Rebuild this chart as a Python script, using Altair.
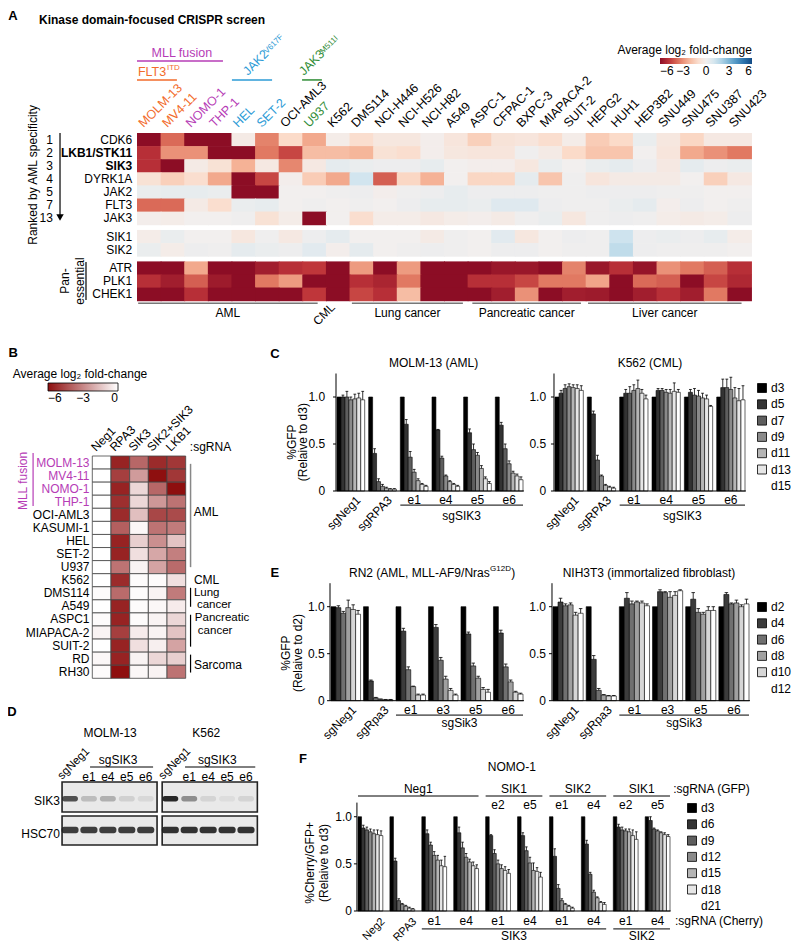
import altair as alt
import pandas as pd

OFF = 8
FONT = "Liberation Sans"
MAG, ORA, BLU, GRN = "#b63cb6", "#f26b2b", "#2c9bd6", "#2e8c35"

# ---------------- Panel A data ----------------
a_lines = ["MOLM-13", "MV4-11", "NOMO-1", "THP-1", "HEL", "SET-2", "OCI-AML3", "U937", "K562",
           "DMS114", "NCI-H446", "NCI-H526", "NCI-H82", "A549", "ASPC-1", "CFPAC-1", "BXPC-3",
           "MIAPACA-2", "SUIT-2", "HEPG2", "HUH1", "HEP3B2", "SNU449", "SNU475", "SNU387", "SNU423"]
a_line_colors = [ORA, ORA, MAG, MAG, BLU, BLU, "black", GRN] + ["black"] * 18
a_genes = ["CDK6", "LKB1/STK11", "SIK3", "DYRK1A", "JAK2", "FLT3", "JAK3", "SIK1", "SIK2", "ATR", "PLK1", "CHEK1"]
a_ranks = ["1", "2", "3", "4", "5", "7", "13"]
a_cdk6 = [-6, -3.8, -6, -6, -0.3, -3.3, -1.2, -2.5, -0.2, -1.0, -0.5, -0.5, -0.1, -0.6, -1.5, -0.7, -0.6, -1.0, -0.2, -1.6, -1.2, 0.3, -0.5, -1.3, -0.4, -0.4]
a_lkb1 = [-5, -3, -3, -6, -6, -3.5, -4.5, -2, -2, -2.2, -0.8, -1.0, -0.1, -0.5, -0.6, -0.6, 0.1, -0.3, -1.2, -1.8, -1.8, 0.0, -0.6, -2.5, -3.0, -3.5]
a_sik3 = [-5, -6, -0.3, -0.8, -2.3, -0.4, -3.2, -0.4, 0.5, 0.3, 0.2, 0.2, 0.4, 0.0, -0.1, -0.1, -0.5, 0.3, 0.0, 0.3, 0.5, 0.2, -0.4, 0.5, 0.2, 0.3]
a_dyrk1a = [-0.8, -1.5, -1.0, -2.5, -6, -4.5, -0.1, -1.6, -2.5, 1.2, -4.0, -1.3, -2.3, 0.0, -1.3, -1.3, 0.5, -1.8, 0.1, -0.6, -0.3, -0.3, -0.3, 0.0, -1.5, -0.4]
a_jak2 = [0.3, 0.4, 0.4, 0.3, -6, -6, 0.0, 0.0, 0.1, 0.2, -0.1, 0.1, 0.2, 0.4, 0.2, 0.2, 0.2, 0.1, 0.1, 0.2, 0.2, 0.2, 0.1, 0.1, 0.0, 0.0]
a_flt3 = [-3.8, -3.8, -0.3, -1.0, 0.3, 0.4, 0.0, 0.1, 0.0, 0.1, 0.0, 0.2, 0.4, 0.4, 0.3, 0.7, 0.7, 0.2, 0.1, 0.1, 0.3, 0.5, -0.1, 0.2, 0.0, 0.1]
a_jak3 = [-0.1, -0.2, 0.0, 0.0, 0.1, -0.8, -0.2, -6, 0.0, -1.0, -0.2, -0.2, -0.4, -0.2, -0.1, -0.3, 0.1, 0.3, -0.5, 0.1, 0.2, 0.1, -0.2, -0.3, -0.2, 0.2]
a_sik1 = [-0.2, 0.3, 0.0, 0.0, -0.5, 0.1, -0.4, 0.2, 0.5, 0.0, 0.0, 0.0, -0.3, 0.1, 0.0, 0.6, -0.5, 0.0, 0.2, 0.1, 1.3, 0.2, 0.3, 0.2, 0.4, -0.2]
a_sik2 = [0.3, -0.2, 0.2, 0.1, 0.5, 0.3, 0.2, 0.6, -0.1, 0.5, 0.0, 0.1, 0.2, 0.1, 0.0, 0.2, 0.2, 0.0, 0.1, 0.1, 1.6, 0.2, 0.1, 0.1, 0.1, 0.0]
a_atr = [-6, -6, -2.5, -6, -6, -5.5, -5, -4.8, -6, -2.8, -6, -2.8, -6, -6, -6, -5.7, -5.7, -6, -3.3, -5.7, -5.0, -5.8, -3.0, -3.5, -4.0, -5.0]
a_plk1 = [-5, -5.5, -4, -5.6, -6, -3.5, -2.8, -6, -6, -5, -5.3, -3.5, -6, -6, -5, -5, -4.5, -3.5, -3.5, -2.6, -6, -3.8, -4, -6, -4.5, -5.2]
a_chek1 = [-6, -6, -5, -6, -6, -6, -6, -4.8, -6, -4.5, -5, -2.0, -6, -6, -6, -5.5, -3.0, -6, -5.5, -5.6, -6, -5.5, -5, -5.5, -3.5, -6]
a_values = [a_cdk6, a_lkb1, a_sik3, a_dyrk1a, a_jak2, a_flt3, a_jak3, a_sik1, a_sik2, a_atr, a_plk1, a_chek1]
a_group_names = ["AML", "Lung cancer", "Pancreatic cancer", "Liver cancer"]

# ---------------- Panel B data ----------------
b_lines = ["MOLM-13", "MV4-11", "NOMO-1", "THP-1", "OCI-AML3", "KASUMI-1", "HEL", "SET-2", "U937",
           "K562", "DMS114", "A549", "ASPC1", "MIAPACA-2", "SUIT-2", "RD", "RH30"]
b_sgrnas = ["Neg1", "RPA3", "SIK3", "SIK2+SIK3", "LKB1"]
b_neg1 = [0, 0, 0, 0, 0, 0, 0, 0, 0, 0, -0.1, 0, -0.1, -0.3, 0, -0.2, -0.1]
b_rpa3 = [-5.5, -4.8, -5.5, -5.2, -5.3, -4.0, -5.5, -5.5, -3.5, -5.3, -3.7, -5.5, -5.5, -4.8, -5.5, -5.5, -6.0]
b_sik3 = [-3.8, -2.5, -1.0, -1.0, -1.6, -0.2, -1.2, -0.8, -0.3, -0.1, -0.1, -0.1, -0.1, -0.5, -0.8, -0.3, -0.2]
b_sik23 = [-5.3, -6.0, -3.8, -2.6, -4.6, -3.5, -2.8, -2.2, -2.3, -0.1, -0.3, -0.2, -0.3, -0.3, -0.4, -1.0, -0.3]
b_lkb1 = [-5.0, -5.0, -6.0, -3.5, -4.5, -3.3, -1.5, -3.2, -3.7, -0.8, -3.3, -0.5, -1.0, -1.5, -2.3, -1.2, -3.5]
b_values = [b_neg1, b_rpa3, b_sik3, b_sik23, b_lkb1]

# ---------------- Panel C data ----------------
c_days = ["d3", "d5", "d7", "d9", "d11", "d13", "d15"]
c_groups = ["sgNeg1", "sgRPA3", "e1", "e4", "e5", "e6"]
c1_vals = [[1.00, 1.00, 1.00, 0.97, 0.98, 0.99, 0.97],
           [1.00, 0.40, 0.10, 0.05, 0.03, 0.02, 0.02],
           [1.00, 0.71, 0.36, 0.20, 0.11, 0.07, 0.05],
           [1.00, 0.65, 0.35, 0.16, 0.10, 0.07, 0.05],
           [1.00, 0.62, 0.44, 0.38, 0.24, 0.13, 0.08],
           [1.00, 0.70, 0.45, 0.29, 0.19, 0.16, 0.12]]
c1_errs = [[0, 0.02, 0.06, 0.03, 0.05, 0.05, 0.09],
           [0, 0.05, 0.03, 0.02, 0.01, 0.005, 0.005],
           [0, 0.05, 0.06, 0.03, 0.02, 0.01, 0.01],
           [0, 0.005, 0.02, 0.01, 0.01, 0.01, 0.01],
           [0, 0.04, 0.06, 0.03, 0.03, 0.02, 0.02],
           [0, 0.03, 0.05, 0.03, 0.02, 0.02, 0.03]]
c2_vals = [[1.00, 1.04, 1.09, 1.11, 1.10, 1.09, 1.07],
           [1.00, 0.82, 0.33, 0.16, 0.06, 0.04, 0.03],
           [1.00, 1.04, 1.04, 1.07, 1.09, 1.04, 0.98],
           [1.00, 1.07, 1.07, 1.05, 1.04, 1.06, 1.05],
           [1.00, 1.05, 1.02, 1.01, 0.99, 0.98, 0.90],
           [1.00, 1.10, 1.10, 1.08, 0.99, 0.96, 0.97]]
c2_errs = [[0, 0.03, 0.04, 0.03, 0.03, 0.04, 0.05],
           [0, 0.03, 0.05, 0.01, 0.01, 0.01, 0.01],
           [0, 0.04, 0.07, 0.06, 0.09, 0.04, 0.04],
           [0, 0.02, 0.02, 0.03, 0.04, 0.09, 0.03],
           [0, 0.03, 0.07, 0.06, 0.05, 0.04, 0.01],
           [0, 0.09, 0.09, 0.13, 0.11, 0.13, 0.15]]
c_grays = ["#000000", "#333333", "#5e5e5e", "#8a8a8a", "#b5b5b5", "#e6e6e6", "#ffffff"]

# ---------------- Panel E data ----------------
e_days = ["d2", "d4", "d6", "d8", "d10", "d12"]
e_groups = ["sgNeg1", "sgRpa3", "e1", "e3", "e5", "e6"]
e1_vals = [[1.00, 0.99, 0.93, 0.99, 0.97, 0.92],
           [1.00, 0.21, 0.03, 0.015, 0.01, 0.01],
           [1.00, 0.74, 0.33, 0.15, 0.06, 0.06],
           [1.00, 0.78, 0.43, 0.23, 0.11, 0.06],
           [1.00, 0.71, 0.37, 0.24, 0.12, 0.09],
           [1.00, 0.72, 0.36, 0.20, 0.09, 0.07]]
e1_errs = [[0, 0.02, 0.02, 0.08, 0.05, 0.04],
           [0, 0.01, 0.005, 0.003, 0.003, 0.003],
           [0, 0.03, 0.03, 0.005, 0.01, 0.01],
           [0, 0.03, 0.03, 0.03, 0.02, 0.01],
           [0, 0.02, 0.03, 0.02, 0.02, 0.03],
           [0, 0.03, 0.03, 0.02, 0.01, 0.01]]
e2_vals = [[1.00, 1.05, 1.01, 1.02, 0.91, 0.93],
           [1.00, 0.44, 0.11, 0.06, 0.05, 0.05],
           [1.00, 1.09, 1.03, 1.05, 1.04, 1.01],
           [1.00, 1.16, 1.15, 1.10, 1.12, 1.17],
           [1.00, 1.08, 0.94, 0.92, 0.96, 0.96],
           [1.00, 1.13, 1.03, 1.04, 1.00, 1.03]]
e2_errs = [[0, 0.04, 0.02, 0.02, 0.03, 0.05],
           [0, 0.04, 0.02, 0.005, 0.005, 0.005],
           [0, 0.06, 0.03, 0.01, 0.02, 0.02],
           [0, 0.02, 0.01, 0.06, 0.04, 0.01],
           [0, 0.07, 0.04, 0.02, 0.04, 0.04],
           [0, 0.02, 0.01, 0.03, 0.02, 0.05]]
e_grays = ["#000000", "#3c3c3c", "#707070", "#a0a0a0", "#d6d6d6", "#ffffff"]

# ---------------- Panel F data ----------------
f_days = ["d3", "d6", "d9", "d12", "d15", "d18", "d21"]
f_cherry = ["Neg2", "RPA3", "e1", "e4", "e1", "e4", "e1", "e4", "e1", "e4"]
f_gfp_guides = ["e2", "e5", "e1", "e4", "e2", "e5"]
f_gfp_genes = ["Neg1", "SIK1", "SIK2", "SIK1"]
f_cherry_genes = ["SIK3", "SIK2"]
f_vals = [[1.00, 0.88, 0.86, 0.84, 0.82, 0.81, 0.80],
          [1.00, 0.53, 0.11, 0.07, 0.05, 0.03, 0.02],
          [1.00, 0.82, 0.70, 0.59, 0.54, 0.48, 0.47],
          [1.00, 0.83, 0.67, 0.57, 0.52, 0.48, 0.45],
          [1.00, 0.80, 0.61, 0.50, 0.45, 0.43, 0.40],
          [1.00, 0.80, 0.64, 0.51, 0.43, 0.42, 0.36],
          [1.00, 0.58, 0.24, 0.11, 0.07, 0.05, 0.03],
          [1.00, 0.71, 0.39, 0.20, 0.14, 0.09, 0.07],
          [1.00, 0.89, 0.86, 0.85, 0.84, 0.80, 0.76],
          [1.00, 0.96, 0.87, 0.85, 0.83, 0.81, 0.79]]
f_errs = [[0, 0.03, 0.03, 0.03, 0.04, 0.05, 0.05],
          [0, 0.03, 0.02, 0.01, 0.01, 0.01, 0.005],
          [0, 0.04, 0.03, 0.04, 0.05, 0.06, 0.11],
          [0, 0.06, 0.06, 0.04, 0.03, 0.04, 0.04],
          [0, 0.01, 0.04, 0.04, 0.04, 0.04, 0.04],
          [0, 0.03, 0.04, 0.06, 0.08, 0.04, 0.05],
          [0, 0.08, 0.04, 0.02, 0.01, 0.01, 0.01],
          [0, 0.04, 0.02, 0.02, 0.01, 0.01, 0.02],
          [0, 0.03, 0.03, 0.02, 0.03, 0.06, 0.08],
          [0, 0.04, 0.01, 0.01, 0.01, 0.02, 0.02]]

# ---------------- Panel D data (band intensities) ----------------
d_lanes = ["sgNeg1", "e1", "e4", "e5", "e6"]
d_sik3_molm13 = [0.75, 0.22, 0.28, 0.12, 0.08]
d_sik3_k562 = [0.95, 0.45, 0.10, 0.06, 0.10]
d_hsc70_molm13 = [0.85, 0.85, 0.85, 0.85, 0.85]
d_hsc70_k562 = [0.9, 0.9, 0.9, 0.9, 0.9]


# ---------------- helpers ----------------
class P:
    def __init__(self, xd, xr, yd, yr):
        self.xd, self.xr, self.yd, self.yr = xd, xr, yd, yr

    def xs(self):
        return alt.Scale(domain=list(self.xd), range=[self.xr[0] - OFF, self.xr[1] - OFF], nice=False, zero=False)

    def ys(self):
        return alt.Scale(domain=list(self.yd), range=[self.yr[0] - OFF, self.yr[1] - OFF], nice=False, zero=False)


def XY(p, xf="x", yf="y"):
    return dict(x=alt.X(f"{xf}:Q", scale=p.xs(), axis=None), y=alt.Y(f"{yf}:Q", scale=p.ys(), axis=None))


def text(p, items, align="center", baseline="middle", size=12, weight="normal", angle=0, color="black"):
    rows = []
    for it in items:
        rows.append({"x": it[0], "y": it[1], "t": it[2], "c": it[3] if len(it) > 3 else color})
    props = dict(align=align, baseline=baseline, fontSize=size, fontWeight=weight, font=FONT)
    if angle:
        props["angle"] = angle
    return alt.Chart(pd.DataFrame(rows)).mark_text(**props).encode(
        **XY(p), text="t:N", color=alt.Color("c:N", scale=None))


def rules(p, segs, color="black", width=1.0):
    df = pd.DataFrame(segs, columns=["x", "x2", "y", "y2"])
    return alt.Chart(df).mark_rule(color=color, strokeWidth=width).encode(**XY(p), x2="x2:Q", y2="y2:Q")


def bars(p, vals, errs, days, grays, stride, legend):
    rows = []
    for g, (vs, es) in enumerate(zip(vals, errs)):
        for d, (v, e) in enumerate(zip(vs, es)):
            x0 = g * stride + d
            rows.append(dict(x=x0, x2=x0 + 1, v=v, z=0.0, day=days[d], xc=x0 + 0.5,
                             xl=x0 + 0.15, xr=x0 + 0.85, top=v + e, e=e))
    df = pd.DataFrame(rows)
    fill = alt.Fill("day:N", scale=alt.Scale(domain=days, range=grays), legend=legend)
    b = alt.Chart(df).mark_rect(stroke="black", strokeWidth=0.6).encode(
        x=alt.X("x:Q", scale=p.xs(), axis=None), x2="x2:Q",
        y=alt.Y("v:Q", scale=p.ys(), axis=None), y2="z:Q", fill=fill)
    de = df[df.e > 0]
    ev = alt.Chart(de).mark_rule(color="black", strokeWidth=0.8).encode(
        x=alt.X("xc:Q", scale=p.xs(), axis=None),
        y=alt.Y("v:Q", scale=p.ys(), axis=None), y2="top:Q")
    ec = alt.Chart(de).mark_rule(color="black", strokeWidth=0.8).encode(
        x=alt.X("xl:Q", scale=p.xs(), axis=None), x2="xr:Q",
        y=alt.Y("top:Q", scale=p.ys(), axis=None))
    return [b, ev, ec]


def axes(p, x0, x1, ymax, label_x, tick_len):
    ticks = [(0, "0"), (0.5, "0.5"), (1.0, "1.0")]
    return [
        rules(p, [[x0, x0, 0, ymax], [x0, x1, 0, 0]], width=1.0),
        rules(p, [[x0 - tick_len, x0, t, t] for t, _ in ticks], width=1.0),
        text(p, [(label_x, t, s) for t, s in ticks], align="right"),
    ]


def day_legend(lx, ly, last_day):
    # the last (white) day is listed without a visible swatch, as in the reference
    stroke_expr = f"datum.value === '{last_day}' ? 'white' : 'black'"
    return alt.Legend(orient="none", legendX=lx, legendY=ly, title=None, symbolType="square",
                      symbolSize=81, symbolStrokeColor=alt.ExprRef(expr=stroke_expr), symbolStrokeWidth=0.8,
                      labelFontSize=12, labelFont=FONT, rowPadding=2.3, labelOffset=3, padding=0)


layers = []

# ================= Panel A =================
PA = P((0, 26), (137, 751), (0, 12.8), (133, 300.7))
a_row_top = [0, 1, 2, 3, 4, 5, 6, 7.4, 8.4, 9.8, 10.8, 11.8]
rowsA = []
for gi, vals in enumerate(a_values):
    for j, v in enumerate(vals):
        rowsA.append(dict(x=j, x2=j + 1.04, y=a_row_top[gi], y2=a_row_top[gi] + 1.04, v=v))
layers.append(alt.Chart(pd.DataFrame(rowsA)).mark_rect().encode(
    **XY(PA), x2="x2:Q", y2="y2:Q",
    fill=alt.Fill("v:Q", scale=alt.Scale(scheme="redblue", domain=[-6, 6], clamp=True),
                  legend=alt.Legend(orient="none", legendX=652, legendY=50, direction="horizontal",
                                    gradientLength=92, gradientThickness=6, title=None,
                                    values=[-6, -3, 0, 3, 6], labelFontSize=12, labelFont=FONT,
                                    labelOffset=2, labelOverlap=False, padding=0,
                                    gradientStrokeWidth=0))))
layers.append(text(PA, [(26.04, -6.34, "Average log\u2082 fold-change")], align="right"))
layers.append(text(PA, [(j + 0.28, -0.38, n, c) for j, (n, c) in enumerate(zip(a_lines, a_line_colors))],
                   align="left", baseline="alphabetic", angle=315, size=12.5))
layers.append(text(PA, [(-0.2, a_row_top[i] + 0.5, g) for i, g in enumerate(a_genes) if g not in ("LKB1/STK11", "SIK3")],
                   align="right"))
layers.append(text(PA, [(-0.2, a_row_top[i] + 0.5, g) for i, g in enumerate(a_genes) if g in ("LKB1/STK11", "SIK3")],
                   align="right", weight="bold"))
layers.append(text(PA, [(-3.56, a_row_top[i] + 0.5, r) for i, r in enumerate(a_ranks)], align="right"))
layers.append(rules(PA, [[-3.26, -3.26, 0.0, 6.3]], width=1.2))
layers.append(alt.Chart(pd.DataFrame([{"x": -3.26, "y": 6.45}])).mark_point(
    shape="triangle-down", filled=True, size=55, color="black", opacity=1).encode(**XY(PA)))
layers.append(text(PA, [(-4.41, 3.2, "Ranked by AML specificity")], angle=270))
layers.append(text(PA, [(-3.06, 11.3, "Pan-"), (-2.42, 11.3, "essential")], angle=270))
layers.append(rules(PA, [[-2.16, -2.16, 9.85, 12.75]], width=1.2))
a_group_span = [(0.05, 7.65), (9.1, 13.8), (14.2, 18.8), (19.1, 25.6)]
layers.append(rules(PA, [[a, b, 13.0, 13.0] for a, b in a_group_span], color="#777777", width=1.6))
layers.append(text(PA, [((a + b) / 2, 13.72, n) for (a, b), n in zip(a_group_span, a_group_names)]))
layers.append(text(PA, [(7.66, 14.73, "CML")], align="left", baseline="alphabetic", angle=315))
layers.append(text(PA, [(-5.25, -8.95, "A")], weight="bold", size=13))
layers.append(text(PA, [(-4.15, -8.63, "Kinase domain-focused CRISPR screen")], align="left", weight="bold", size=12))
layers.append(text(PA, [(1.9, -6.1, "MLL fusion", MAG)], size=12.5))
layers.append(rules(PA, [[0, 3.64, -5.5, -5.5]], color=MAG, width=1.5))
layers.append(text(PA, [(0.04, -4.66, "FLT3", ORA)], align="left", size=12.5))
layers.append(text(PA, [(1.27, -4.98, "ITD", ORA)], align="left", size=8))
layers.append(rules(PA, [[0, 1.69, -4.05, -4.05]], color=ORA, width=1.5))
layers.append(rules(PA, [[4.02, 5.72, -4.05, -4.05]], color=BLU, width=1.5))
layers.append(rules(PA, [[6.99, 7.83, -4.05, -4.05]], color=GRN, width=1.5))
layers.append(text(PA, [(4.7, -4.35, "JAK2", BLU), (7.07, -4.35, "JAK3", GRN)],
                   align="left", baseline="alphabetic", angle=315, size=12.5))
layers.append(text(PA, [(5.5, -6.03, "V617F", BLU), (7.88, -6.03, "M511I", GRN)],
                   align="left", baseline="alphabetic", angle=315, size=8))

# ================= Panel B =================
PB = P((0, 5), (92.3, 185.7), (0, 17), (456, 678.3))
rowsB = []
for j, vals in enumerate(b_values):
    for i, v in enumerate(vals):
        rowsB.append(dict(x=j, x2=j + 1, y=i, y2=i + 1, v=v))
layers.append(alt.Chart(pd.DataFrame(rowsB)).mark_rect(stroke="#444444", strokeWidth=0.8).encode(
    **XY(PB), x2="x2:Q", y2="y2:Q",
    fill=alt.Fill("v:Q", scale=alt.Scale(domain=[-6, 0], range=["#8e0f0f", "#ffffff"], interpolate="rgb", clamp=True),
                  legend=alt.Legend(orient="none", legendX=40, legendY=375, direction="horizontal",
                                    gradientLength=70, gradientThickness=8, title=None,
                                    values=[-6, -3, 0], labelFontSize=12, labelFont=FONT,
                                    labelOffset=2, labelOverlap=False, padding=0,
                                    gradientStrokeColor="black", gradientStrokeWidth=0.8))))
layers.append(text(PB, [(-0.66, -6.26, "Average log\u2082 fold-change")]))
layers.append(text(PB, [(-0.15, i + 0.5, n, MAG if i < 4 else "black") for i, n in enumerate(b_lines)], align="right"))
layers.append(text(PB, [(j + 0.2, -0.3, s) for j, s in enumerate(b_sgrnas)], align="left", baseline="alphabetic", angle=315))
layers.append(text(PB, [(5.22, -0.69, ":sgRNA")], align="left"))
layers.append(rules(PB, [[5.26, 5.26, 0.6, 8.5]], color="#888888", width=1.5))
layers.append(rules(PB, [[5.26, 5.26, 10.08, 11.53], [5.26, 5.26, 12.14, 14.58], [5.26, 5.26, 15.19, 16.56]], width=1.2))
layers.append(text(PB, [(5.43, 4.3, "AML"), (5.44, 9.5, "CML"), (5.44, 15.95, "Sarcoma")], align="left"))
layers.append(text(PB, [(5.44, 10.5, "Lung"), (5.6, 11.4, "cancer"),
                        (5.49, 12.42, "Pancreatic"), (5.65, 13.36, "cancer")], align="left", size=11.5))
layers.append(text(PB, [(-3.71, 1.91, "MLL fusion", MAG)], angle=270))
layers.append(rules(PB, [[-3.17, -3.17, -0.23, 3.82]], color=MAG, width=1.2))
layers.append(text(PB, [(-4.24, -7.86, "B")], weight="bold", size=13))

# ================= Panel C =================
PC1 = P((0, 47), (337, 523), (0, 1.25), (491, 373.5))
PC2 = P((0, 47), (555, 745), (0, 1.25), (491, 373.5))
for p, vals, errs, leg, lab_x, title, tx in [
        (PC1, c1_vals, c1_errs, day_legend(748, 374, c_days[-1]), -3.0, "MOLM-13 (AML)", 24.4),
        (PC2, c2_vals, c2_errs, None, -2.2, "K562 (CML)", 23.5)]:
    layers += bars(p, vals, errs, c_days, c_grays, 8, leg)
    layers += axes(p, -0.25, 47.25, 1.25, lab_x, 0.75)
    layers.append(text(p, [(g * 8 + 4.5, -0.04, c_groups[g]) for g in (0, 1)],
                       align="right", baseline="top", angle=315))
    layers.append(text(p, [(g * 8 + 3.5, -0.096, c_groups[g]) for g in range(2, 6)]))
    layers.append(rules(p, [[16, 47, -0.15, -0.15]]))
    layers.append(text(p, [(31.5, -0.27, "sgSIK3"), (tx, 1.367, title)]))
layers.append(text(PC1, [(-15.7, 1.46, "C")], weight="bold", size=13))
layers.append(text(PC1, [(-11.4, 0.52, "%GFP"), (-8.6, 0.52, "(Relaive to d3)")], angle=270))

# ================= Panel E =================
PE1 = P((0, 39), (331, 523), (0, 1.25), (700.7, 583.2))
PE2 = P((0, 39), (553, 749), (0, 1.25), (700.7, 583.2))
for p, vals, errs, leg, lab_x in [(PE1, e1_vals, e1_errs, day_legend(748, 593, e_days[-1]), -1.3),
                                  (PE2, e2_vals, e2_errs, None, -1.4)]:
    layers += bars(p, vals, errs, e_days, e_grays, 6.6, leg)
    layers += axes(p, -0.2, 39.2, 1.25, lab_x, 0.6)
    layers.append(text(p, [(g * 6.6 + 4.0, -0.04, e_groups[g]) for g in (0, 1)],
                       align="right", baseline="top", angle=315))
    layers.append(text(p, [(g * 6.6 + 3.0, -0.1, e_groups[g]) for g in range(2, 6)]))
    layers.append(rules(p, [[13.2, 39.0, -0.153, -0.153]]))
    layers.append(text(p, [(26.1, -0.24, "sgSik3")]))
layers.append(text(PE1, [(3.66, 1.358, "RN2 (AML, MLL-AF9/Nras"), (36.6, 1.358, ")")], align="left"))
layers.append(text(PE1, [(32.3, 1.40, "G12D")], align="left", size=8))
layers.append(text(PE2, [(19.1, 1.358, "NIH3T3 (immortalized fibroblast)")]))
layers.append(text(PE1, [(-11.4, 1.358, "E")], weight="bold", size=13))
layers.append(text(PE1, [(-9.15, 0.507, "%GFP"), (-6.7, 0.507, "(Relaive to d2)")], angle=270))

# ================= Panel F =================
PF = P((0, 88), (358, 670), (0, 1.15), (911, 802.6))
layers += bars(PF, f_vals, f_errs, f_days, c_grays, 9, day_legend(678, 794, f_days[-1]))
layers += axes(PF, -0.3, 88.2, 1.15, -1.7, 0.85)
layers.append(text(PF, [(5.9, -0.05, f_cherry[0]), (14.9, -0.05, f_cherry[1])],
                   align="right", baseline="top", angle=315, size=11))
layers.append(text(PF, [(g * 9 + 3.5, -0.106, f_cherry[g]) for g in range(2, 10)]))
layers.append(text(PF, [(89.4, -0.106, ":sgRNA (Cherry)"), (88.9, 1.294, ":sgRNA (GFP)")], align="left"))
f_bottom_span = [(18, 70), (72, 88)]
layers.append(rules(PF, [[a, b, -0.19, -0.19] for a, b in f_bottom_span]))
layers.append(text(PF, [((a + b) / 2, -0.265, n) for (a, b), n in zip(f_bottom_span, f_cherry_genes)]))
f_top_span = [(0, 34), (36, 52), (54, 70), (72, 88)]
layers.append(rules(PF, [[a, b, 1.22, 1.22] for a, b in f_top_span]))
layers.append(text(PF, [((a + b) / 2, 1.294, n) for (a, b), n in zip(f_top_span, f_gfp_genes)]))
layers.append(text(PF, [(g * 9 + 3.5, 1.124, f_gfp_guides[g - 4]) for g in range(4, 10)]))
layers.append(text(PF, [(43.4, 1.527, "NOMO-1")]))
layers.append(text(PF, [(-15.5, 1.61, "F")], weight="bold", size=13))
layers.append(text(PF, [(-13.5, 0.51, "%Cherry/GFP+"), (-9.6, 0.51, "(Relaive to d3)")], angle=270))

# ================= Panel D =================
PD = P((0, 9.3), (70, 246), (0, 2.1), (782, 845))
boxes = pd.DataFrame([[-0.42, 4.6, 0, 1.0], [-0.42, 4.6, 1.133, 2.1], [4.87, 9.9, 0, 1.0], [4.87, 9.9, 1.133, 2.1]],
                     columns=["x", "x2", "y", "y2"])
layers.append(alt.Chart(boxes).mark_rect(fill="#e9e9e9", stroke="#222222", strokeWidth=1.6).encode(
    **XY(PD), x2="x2:Q", y2="y2:Q"))
lane_pos = [0, 1, 2, 3, 4, 5.3, 6.3, 7.3, 8.3, 9.3]
band_rows = []
for lp, o in zip(lane_pos, d_sik3_molm13 + d_sik3_k562):
    band_rows.append(dict(x=lp - 0.42, x2=lp + 0.42, y=0.47, y2=0.65, o=o))
for lp, o in zip(lane_pos, d_hsc70_molm13 + d_hsc70_k562):
    band_rows.append(dict(x=lp - 0.45, x2=lp + 0.45, y=1.49, y2=1.71, o=o))
layers.append(alt.Chart(pd.DataFrame(band_rows)).mark_rect(color="#1e1e1e", cornerRadius=2.5).encode(
    **XY(PD), x2="x2:Q", y2="y2:Q", opacity=alt.Opacity("o:Q", scale=None)))
layers.append(text(PD, [(2.12, -1.63, "MOLM-13"), (7.2, -1.63, "K562"), (2.54, -0.73, "sgSIK3"), (7.78, -0.73, "sgSIK3")]))
layers.append(rules(PD, [[1.06, 4.39, -0.5, -0.5], [6.08, 9.79, -0.5, -0.5]]))
layers.append(text(PD, [(lp, -0.167, d_lanes[k % 5]) for k, lp in enumerate(lane_pos) if k % 5 != 0]))
layers.append(text(PD, [(-0.42, -0.07, d_lanes[0]), (4.92, -0.07, d_lanes[0])],
                   align="left", baseline="alphabetic", angle=315, size=11.5))
layers.append(text(PD, [(-0.53, 0.63, "SIK3"), (-0.53, 1.73, "HSC70")], align="right"))
layers.append(text(PD, [(-3.07, -2.33, "D")], weight="bold", size=13))

chart = alt.layer(*layers).resolve_scale(
    x="independent", y="independent", fill="independent", color="independent", opacity="independent"
).properties(
    width=784, height=935, padding=0, autosize=alt.AutoSizeParams(type="none")
).configure(font=FONT).configure_view(stroke=None)

chart.save("out.html", embed_options={"renderer": "svg", "actions": False})
